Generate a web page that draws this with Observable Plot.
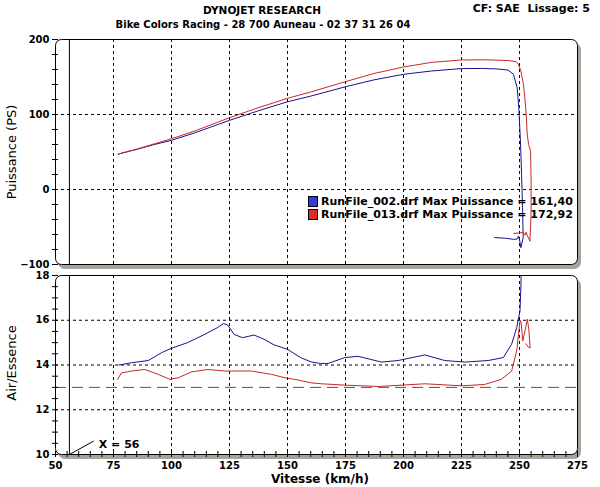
<!DOCTYPE html>
<html><head><meta charset="utf-8">
<script src="https://cdn.jsdelivr.net/npm/d3@7"></script>
<script src="https://cdn.jsdelivr.net/npm/@observablehq/plot@0.6"></script>
<style>
body{margin:0;background:#fff;}
#c{position:relative;width:600px;height:487px;overflow:hidden;font-family:"DejaVu Sans",Verdana,sans-serif;}
.t{position:absolute;white-space:nowrap;font-weight:bold;font-size:11px;color:#000;line-height:1;}
.c{transform:translateX(-50%);}
.r{transform:translate(-50%,-50%) rotate(-90deg);font-weight:normal;font-size:13px;}
.sq{position:absolute;width:8px;height:9px;border:1px solid #000;}
svg{position:absolute;left:0;}
</style></head><body><div id="c"></div>
<script>
// ---- data ----
const run002Vitesse = [77.3,85,92,100,110,125,137,150,160,175,187,200,212,225,234,240,245,247.4,249,249.7,250.4,250.9,251.3,251.6,250.6,250.2,249.6,249,247.5,244,239.3];
const run002Puissance = [47.5,53.5,59.5,65.6,75.5,92.2,104.5,117,124.5,137,146,153.6,158,161.2,161.4,160.8,159.3,153.6,135.7,109,64.7,20,-24,-64,-77.6,-70,-62,-66,-66.5,-65,-64];
const run013Vitesse = [76.8,85,92,100,110,125,137,150,160,175,187,200,212,225,235,245,248.5,249.5,250.6,251.7,252.2,252.9,253.3,253.9,254.8,255,255,254.5,253.5,252.8,252.3,251.5,250,247.5];
const run013Puissance = [47,53.8,60.3,67.7,78,95.7,108.6,121.6,130,143.8,154.5,163.3,169.5,172.7,172.9,172,170.5,167,158,140,125,100,75,60,51,11,-33,-69,-62,-57,-61,-57,-58,-58.5];
const afr002Vitesse = [77.3,82.8,90,95.7,100,106.9,114,119.8,122.4,124.1,127,130.6,135.6,139.9,144.2,150,155.7,160.3,164.3,167.5,174.7,180.4,190.5,197.7,209.2,217.8,226.4,236.5,243,246.6,248.8,250.2,250.6,250.8];
const afr002Ratio = [14.0,14.1,14.2,14.55,14.75,15.0,15.35,15.67,15.85,15.8,15.37,15.22,15.34,15.15,14.9,14.7,14.33,14.13,14.07,14.07,14.33,14.39,14.13,14.2,14.45,14.2,14.13,14.2,14.33,14.93,15.67,16.4,17.5,18.5];
const afr013Vitesse = [76.7,78.5,82.8,88.5,94.3,99.3,102.9,108.6,115.8,123,134.5,143.1,148.9,154.6,160.3,164.7,174.7,189.1,209.2,225,235,242.2,246.6,248.8,249.8,250.3,250.7,251.4,252.5,253.4,254.0,254.6,253.8,252.8];
const afr013Ratio = [13.36,13.65,13.73,13.8,13.58,13.36,13.43,13.69,13.8,13.73,13.73,13.58,13.43,13.33,13.2,13.16,13.1,13.04,13.16,13.07,13.13,13.36,13.73,14.63,15.6,16.0,15.9,15.07,15.6,16.05,15.6,14.77,14.8,14.95];
const xDomain = [50, 275];
const xTicks = [50,75,100,125,150,175,200,225,250,275];
const xGrid = [75,100,125,150,175,200,225,250];
const xMinor = d3.range(50, 276, 5);
const yPowDomain = [-100, 200];
const yPowTicks = [200,100,0,-100];
const yPowGrid = [100,0];
const yPowMinor = d3.range(-100, 201, 20);
const yAfrDomain = [10, 18];
const yAfrTicks = [18,16,14,12,10];
const yAfrGrid = [16,14,12];
const yAfrMinor = d3.range(10, 18.01, 0.5);
const afrTarget = [13];
const cursorX = [56];
const cursorNote = [{x1:56, y1:10, x2:66.5, y2:10.6, label:"X = 56"}];
const runNames = ["RunFile_002.drf Max Puissance = 161,40","RunFile_013.drf Max Puissance = 172,92"];
const runColors = ["#14148c","#c82828"];
const legendFill = ["#2c3ce0","#e02a2a"];

const zip = (xs, ys) => xs.map((x,i)=>({x, y: ys[i]}));
const pow002 = zip(run002Vitesse, run002Puissance);
const pow013 = zip(run013Vitesse, run013Puissance);
const afr002 = zip(afr002Vitesse, afr002Ratio);
const afr013 = zip(afr013Vitesse, afr013Ratio);

const FONT = "DejaVu Sans, Verdana, sans-serif";
const common = {
  width: 600, marginLeft: 55, marginRight: 23,
  style: {background: "transparent", overflow: "visible", fontFamily: FONT, fontSize: "10px", fontWeight: "bold", color: "black"},
  x: {domain: xDomain}
};
const frameMarks = [
  Plot.frame({fill: "#a8a49c", stroke: "#a8a49c", rx: 6, dx: 3, dy: 4}),
  Plot.frame({fill: "white", stroke: "black", rx: 6})
];
const gridStyle = {stroke: "black", strokeOpacity: 1, strokeDasharray: "3,3", strokeWidth: 1};

const topPlot = Plot.plot({
  ...common, height: 240, marginTop: 9, marginBottom: 6,
  y: {domain: yPowDomain},
  marks: [
    ...frameMarks,
    Plot.gridX(xGrid, gridStyle),
    Plot.gridY(yPowGrid, gridStyle),
    Plot.ruleX(cursorX, {stroke: "black"}),
    Plot.axisY(yPowMinor, {anchor: "left", tickSize: 6, dx: 3, tickFormat: () => "", label: null}),
    Plot.axisY(yPowTicks, {anchor: "left", tickSize: 0, tickPadding: 6, label: null}),
    Plot.axisX([], {label: null}),
    Plot.line(pow002, {x: "x", y: "y", stroke: runColors[0], strokeWidth: 1, clip: true}),
    Plot.line(pow013, {x: "x", y: "y", stroke: runColors[1], strokeWidth: 1, clip: true})
  ]
});
topPlot.style.top = "30px";

const botPlot = Plot.plot({
  ...common, height: 218, marginTop: 9, marginBottom: 30,
  y: {domain: yAfrDomain},
  marks: [
    ...frameMarks,
    Plot.gridX(xGrid, gridStyle),
    Plot.gridY(yAfrGrid, gridStyle),
    Plot.ruleX(cursorX, {stroke: "black"}),
    Plot.ruleY(afrTarget, {stroke: "#c82020", strokeDasharray: "11,6"}),
    Plot.axisY(yAfrMinor, {anchor: "left", tickSize: 6, dx: 3, tickFormat: () => "", label: null}),
    Plot.axisY(yAfrTicks, {anchor: "left", tickSize: 0, tickPadding: 6, label: null}),
    Plot.axisX(xMinor, {anchor: "bottom", tickSize: 6, dy: -3, tickFormat: () => "", label: null}),
    Plot.axisX(xTicks, {anchor: "bottom", tickSize: 0, tickPadding: 7, label: null}),
    Plot.link(cursorNote, {x1: "x1", y1: "y1", x2: "x2", y2: "y2", stroke: "black"}),
    Plot.text(cursorNote, {x: "x2", y: "y2", text: "label", textAnchor: "start", dx: 5, dy: 3, fontSize: 11}),
    Plot.line(afr002, {x: "x", y: "y", stroke: runColors[0], strokeWidth: 1, clip: true}),
    Plot.line(afr013, {x: "x", y: "y", stroke: runColors[1], strokeWidth: 1, clip: true})
  ]
});
botPlot.style.top = "266px";

const c = document.getElementById("c");
c.appendChild(topPlot);
c.appendChild(botPlot);

function addText(txt, cls, css) {
  const d = document.createElement("div");
  d.className = "t " + cls;
  d.textContent = txt;
  Object.assign(d.style, css);
  c.appendChild(d);
  return d;
}
addText("DYNOJET RESEARCH", "c", {left: "262px", top: "5px", fontSize: "10.5px"});
addText("Bike Colors Racing - 28 700 Auneau - 02 37 31 26 04", "c", {left: "263px", top: "20px", fontSize: "10px"});
addText("CF: SAE  Lissage: 5", "", {right: "10px", top: "3px", whiteSpace: "pre"});
addText("Puissance (PS)", "r", {left: "11px", top: "152px"});
addText("Air/Essence", "r", {left: "11px", top: "363px"});
addText("Vitesse (km/h)", "c", {left: "320px", top: "473px", fontSize: "12px"});
runNames.forEach((n, i) => {
  const s = document.createElement("div");
  s.className = "sq";
  Object.assign(s.style, {left: "308px", top: (196 + i * 13) + "px", background: legendFill[i]});
  c.appendChild(s);
  addText(n, "", {left: "321px", top: (196 + i * 13) + "px"});
});
</script>
</body></html>
